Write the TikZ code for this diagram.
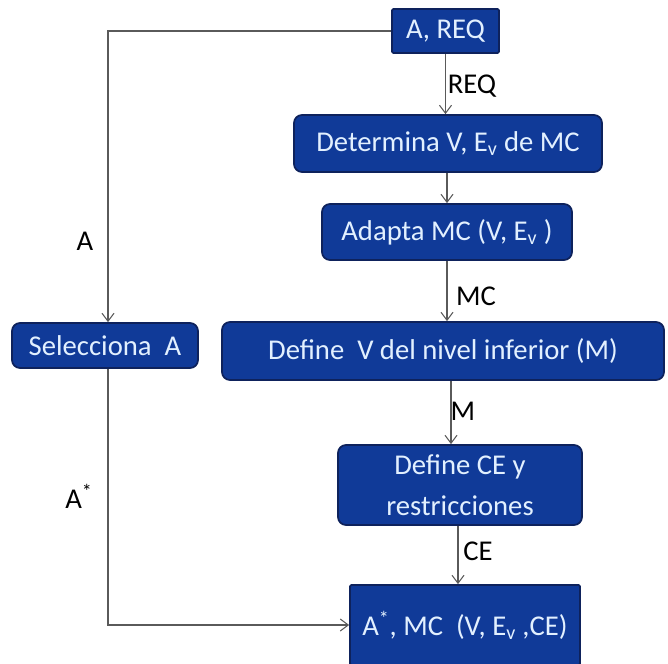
\documentclass[tikz,border=0pt]{standalone}
\usepackage{fontspec}
\setmainfont{Carlito}
\usetikzlibrary{arrows.meta}
\definecolor{boxfill}{RGB}{16,58,152}
\definecolor{boxline}{RGB}{14,34,92}
\definecolor{boxtext}{RGB}{226,240,255}
\definecolor{wire}{RGB}{90,90,90}
\begin{document}
\begin{tikzpicture}[x=0.75pt,y=-0.75pt,
  font=\fontsize{21.5}{29}\selectfont,
  blk/.style={draw=boxline,fill=boxfill,line width=1.3pt,text=boxtext,
    align=center,inner sep=0pt,rounded corners=6pt},
  sq/.style={blk,rounded corners=1pt},
  arr/.style={draw=wire,line width=0.8pt,-{Straight Barb[length=6pt,width=9pt]}},
  lbl/.style={text=black,inner sep=0pt}]
\clip (0,0) rectangle (668,664);
\fill[white] (0,0) rectangle (668,664);

% process boxes
\node[sq, minimum width=107pt*0.75, minimum height=44pt*0.75] (areq) at (445.5,31) {A, REQ};
\node[blk, minimum width=308pt*0.75, minimum height=57pt*0.75] (det) at (448,143.5) {Determina V, E\textsubscript{v} de MC};
\node[blk, minimum width=250pt*0.75, minimum height=56pt*0.75] (ada) at (447,232) {Adapta MC (V, E\textsubscript{v} )};
\node[blk, minimum width=186pt*0.75, minimum height=45pt*0.75] (sel) at (105,345.5) {Selecciona\ \ A};
\node[blk, minimum width=442pt*0.75, minimum height=58pt*0.75] (defv) at (443,351) {Define\ \ V del nivel inferior (M)};
\node[blk, minimum width=244pt*0.75, minimum height=80pt*0.75] (defce) at (460,485) {Define CE y\\[2pt]restricciones};
\node[sq, minimum width=230pt*0.75, minimum height=80pt*0.75] (fin) at (465,625) {A\textsuperscript{*}, MC\ \ (V, E\textsubscript{v} ,CE)};

% helper columns for the vertical wires
\coordinate (xm) at (451,0);
\coordinate (xce) at (458,0);
\coordinate (xa) at (108,0);

% connectors
\draw[arr] (areq.west) -| (xa |- sel.north);
\draw[arr] (areq.south) -- (areq.south |- det.north);
\draw[arr] (det.south -| ada.north) -- (ada.north);
\draw[arr] (ada.south) -- (ada.south |- defv.north);
\draw[arr] (defv.south -| xm) -- (defce.north -| xm);
\draw[arr] (defce.south -| xce) -- (fin.north -| xce);
\draw[arr] (xa |- sel.south) |- (fin.west);

% connector labels
\node[lbl] (la) at (85,241) {A};
\node[lbl] (lreq) at (472,86) {REQ};
\node[lbl] (lmc) at (476,296) {MC};
\node[lbl] (lm) at (463,411) {M};
\node[lbl] (lce) at (478,551) {CE};
\node[lbl] (las) at (79,496) {A\textsuperscript{*}};
\end{tikzpicture}
\end{document}
